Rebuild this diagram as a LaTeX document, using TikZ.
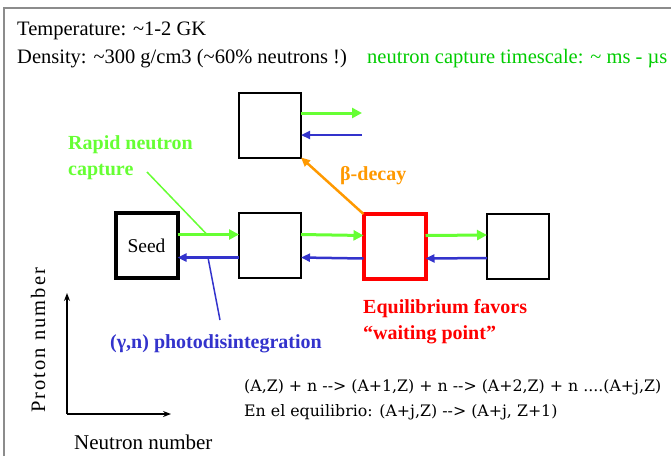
\documentclass[tikz,border=0pt]{standalone}
\usepackage{fontspec}
\setmainfont{Liberation Serif}
\newfontfamily\eqfont{DejaVu Serif}
\usetikzlibrary{arrows.meta}
\definecolor{capgreen}{RGB}{102,255,51}
\definecolor{txtgreen}{RGB}{0,204,0}
\definecolor{phblue}{RGB}{51,51,204}
\definecolor{betaorange}{RGB}{255,153,0}
\definecolor{framegray}{RGB}{140,140,140}
\newcommand{\darr}{-\kern0pt-\kern0pt>}

\begin{document}
\begin{tikzpicture}[x=1pt,y=-1pt,
            nucbox/.style={draw,line width=2pt,minimum width=62pt,minimum height=65pt,inner sep=0pt,outer sep=0pt},
            capture/.style={capgreen,line width=3pt,-{Triangle[length=10pt,width=10pt]}},
            photo/.style={phblue,line width=2.5pt,-{Triangle[length=9pt,width=8pt]}},
            beta/.style={betaorange,line width=2.5pt,-{Triangle[length=9pt,width=8pt]}},
            axis/.style={line width=2pt,-{Stealth[length=8pt,width=6pt]}},
            txt/.style={inner sep=0pt,anchor=base west,font=\fontsize{20.5}{22}\selectfont},
            lbl/.style={inner sep=0pt,anchor=base west,align=left,font=\bfseries\fontsize{20}{26}\selectfont},
            eqn/.style={inner sep=0pt,anchor=base west,font=\eqfont\fontsize{15.8}{18}\selectfont}]
            \useasboundingbox (0,0) rectangle (671,456);
            \draw[framegray,line width=1.5pt] (4,456) -- (4,8) -- (671,8);

            \node[txt] (temp) at (17,35) {Temperature: \textasciitilde1-2 GK};
            \node[txt] (dens) at (17,63) {Density: \textasciitilde300 g/cm3 (\textasciitilde60\% neutrons !)};
            \node[txt,txtgreen] (scale) at (367,63) {neutron capture timescale: \textasciitilde\ ms - µs};

            \node[nucbox] (up) at (270,125) {};
            \node[nucbox,line width=4pt,font=\fontsize{19.5}{22}\selectfont] (seed) at (146.5,245.5) {Seed};
            \node[nucbox] (mid) at (270,245.5) {};
            \node[nucbox,draw=red,line width=4pt] (wait) at (394.5,246.5) {};
            \node[nucbox] (next) at (518,246) {};

            \foreach \a/\b in {seed/mid,mid/wait,wait/next} {
                \draw[capture] ([yshift=11pt]\a.east) -- ([yshift=11pt]\b.west);
                \draw[photo] ([yshift=-12pt]\b.west) -- ([yshift=-12pt]\a.east);
            }

            \coordinate (upout) at (362,113);
            \coordinate (upin) at (362,135);
            \draw[capture] ([yshift=12pt]up.east) -- (upout);
            \draw[photo] (upin) -- ([yshift=-10pt]up.east);
            \draw[beta] (wait.north west) -- (up.south east);

            \node[lbl,capgreen] (rapid) at (68,175) {Rapid neutron\\capture};
            \coordinate (rapidfoot) at (147,172);
            \coordinate (rapidhit) at (207,234.5);
            \draw[capgreen,line width=1.5pt] (rapidfoot) -- (rapidhit);

            \node[lbl,betaorange] (decay) at (340,180) {β-decay};
            \node[lbl,red] (favor) at (363,339) {Equilibrium favors\\“waiting point”};

            \node[lbl,phblue] (photodis) at (110,348) {(γ,n) photodisintegration};
            \coordinate (photohit) at (208,257.5);
            \coordinate (photofoot) at (220,320);
            \draw[phblue,line width=1.5pt] (photohit) -- (photofoot);

            \coordinate (origin) at (67,414);
            \coordinate (ztop) at (67,293);
            \coordinate (nright) at (171,414);
            \draw[axis] (origin) -- (ztop);
            \draw[axis] (origin) -- (nright);
            \node[txt,rotate=90] (zlab) at (45,413) {\addfontfeature{LetterSpace=10}Proton number};
            \node[txt,font=\fontsize{21}{22}\selectfont] (nlab) at (74,449) {Neutron number};

            \node[eqn] (chain) at (244,391) {(A,Z) + n \darr\ (A+1,Z) + n \darr\ (A+2,Z) + n ....(A+j,Z)};
            \node[eqn] (equil) at (244,416) {En el equilibrio: (A+j,Z) \darr\ (A+j, Z+1)};
\end{tikzpicture}
\end{document}
